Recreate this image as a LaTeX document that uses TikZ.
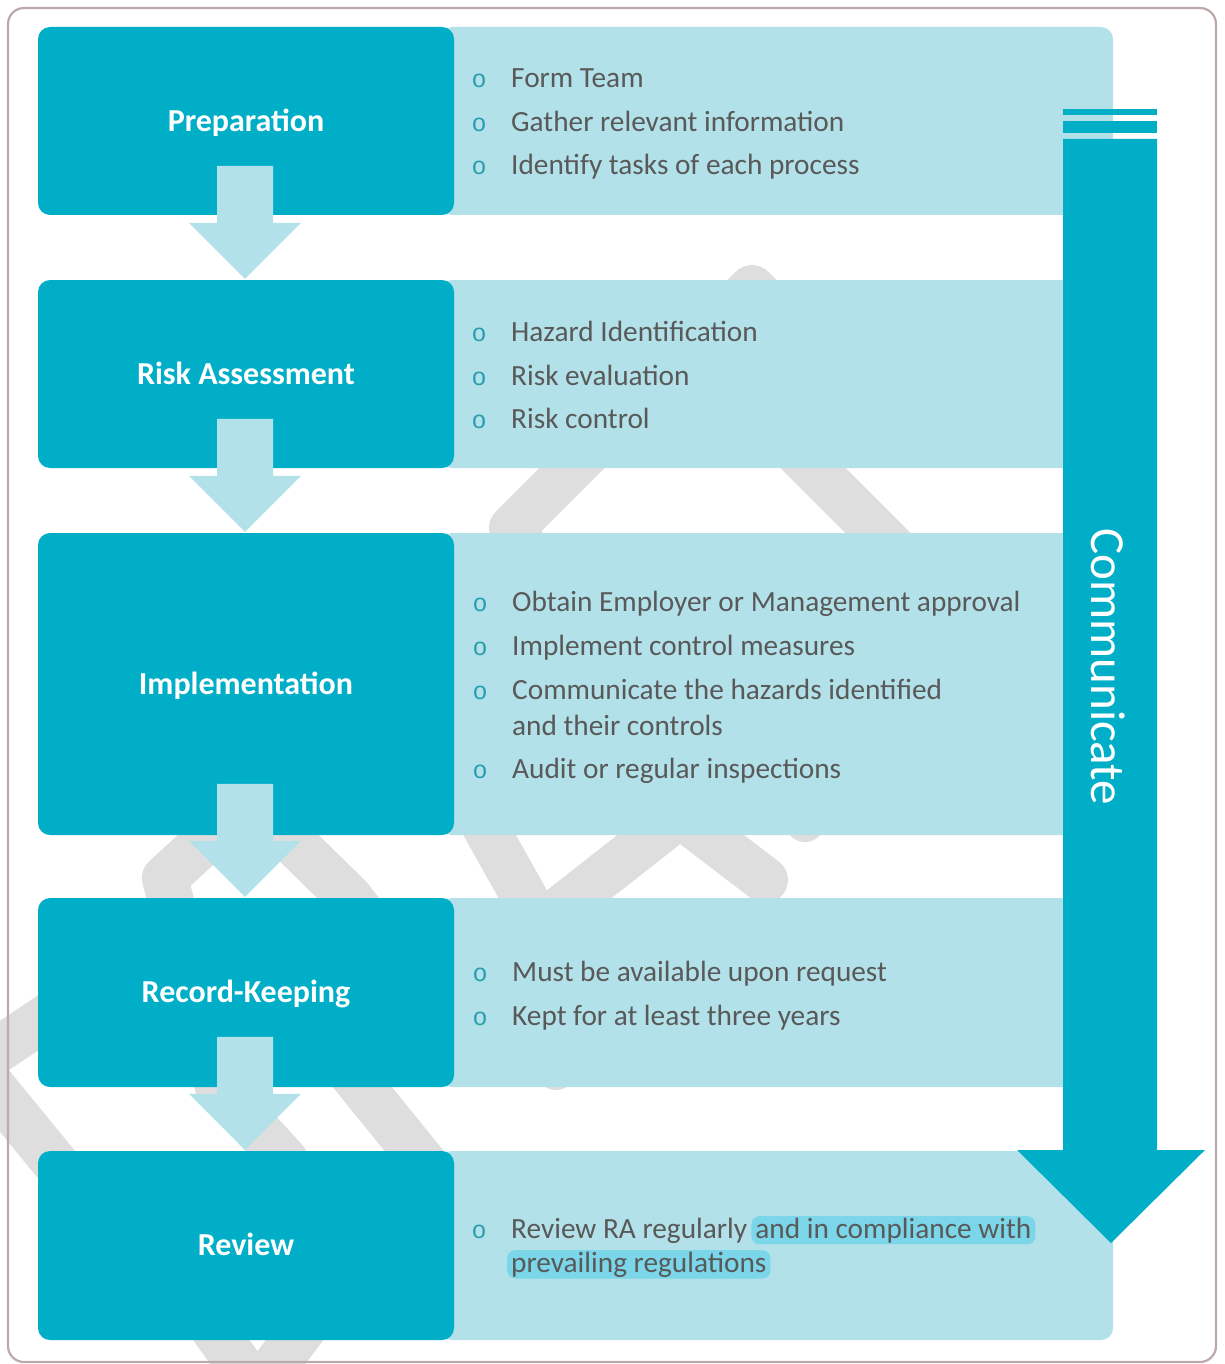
\documentclass[tikz,border=0pt]{standalone}
\usepackage{fontspec}
\setmainfont{Carlito}
\newfontfamily\bulletfont{Liberation Mono}
\usetikzlibrary{calc}

\definecolor{stepdark}{HTML}{00AFC7}
\definecolor{steplight}{HTML}{B2E1E9}
\definecolor{wmgrey}{HTML}{DEDEDE}
\definecolor{bodytext}{HTML}{595959}
\definecolor{bulletcol}{HTML}{2A9DAE}
\definecolor{hlcol}{HTML}{7AD6E8}
\definecolor{framecol}{HTML}{BCA9A9}

\begin{document}
\begin{tikzpicture}[x=1pt,y=-1pt,
  stagebox/.style={fill=stepdark, rounded corners=12pt, minimum width=416pt,
    inner sep=0pt, text=white, font=\fontsize{32}{36}\selectfont\bfseries,
    text height=20.6pt, text depth=0pt},
  detailbox/.style={fill=steplight, rounded corners=12pt, minimum width=673pt, inner sep=0pt},
  item/.style={anchor=base west, inner sep=0pt, text=bodytext, font=\fontsize{29.3}{34}\selectfont},
  bul/.style={anchor=base, inner sep=0pt, text=bulletcol, font=\bulletfont\fontsize{25}{30}\selectfont},
  hl/.style={fill=hlcol, rounded corners=8pt, inner xsep=4pt, inner ysep=1.5pt,
    anchor=base west, text=bodytext, font=\fontsize{29.3}{34}\selectfont},
  flowarrow/.style={fill=steplight},
  wm/.style={draw=wmgrey, line width=46pt, line cap=round, line join=round}
]
\path[use as bounding box] (0,0) rectangle (1224,1364);

% faint background emblem
\begin{scope}
  \clip (0,0) rectangle (1224,1364);
  \draw[wm] (560,600) -- (512,528) -- (752,288) -- (880,416);
  \draw[wm] (740,395) -- (930,585);
  \draw[wm] (420,990) -- (350,898) -- (250,800) -- (165,878) -- (218,1087) -- (285,1160) -- (300,1200);
  \draw[wm] (470,800) -- (540,925) -- (680,815) -- (765,880);
  \draw[wm, line width=40pt] (805,790) -- (805,822);
  \draw[wm] (300,1010) -- (470,1220);
  \draw[wm, line width=40pt] (540,1010) -- (556,1070);
  \draw[wm] (95,985) -- (-25,1065) -- (110,1230);
  \draw[wm] (150,1240) -- (257,1390) -- (370,1240);
\end{scope}

% outer frame
\draw[framecol, line width=2.2pt, rounded corners=16pt] (8,8) rectangle (1216,1362);

% detail panels
\node[detailbox, minimum height=188pt] (prepd) at (776.5,121) {};
\node[detailbox, minimum height=188pt] (riskd) at (776.5,374) {};
\node[detailbox, minimum height=302pt] (impld) at (776.5,684) {};
\node[detailbox, minimum height=189pt] (recd)  at (776.5,992.5) {};
\node[detailbox, minimum height=189pt] (revd)  at (776.5,1245.5) {};

% stage boxes
\node[stagebox, minimum height=188pt] (prep) at (246,121) {Preparation};
\node[stagebox, minimum height=188pt] (risk) at (246,374) {Risk Assessment};
\node[stagebox, minimum height=302pt] (impl) at (246,684) {Implementation};
\node[stagebox, minimum height=189pt] (rec)  at (246,992.5) {Record-Keeping};
\node[stagebox, minimum height=189pt] (rev)  at (246,1245.5) {Review};

% block arrows between stages
\foreach \nxt in {risk,impl,rec,rev}{
  \path[flowarrow] ($(\nxt.north)+(-1,-1)$) -- ++(-56,-56) -- ++(28,0) -- ++(0,-57)
    -- ++(56,0) -- ++(0,57) -- ++(28,0) -- cycle;
}

% communicate arrow
\fill[stepdark] (1063,109) rectangle (1157,115);
\fill[stepdark] (1063,121) rectangle (1157,133);
\fill[stepdark] (1063,139) -- (1157,139) -- (1157,1150) -- (1205,1150) -- (1111,1243)
  -- (1017,1150) -- (1063,1150) -- cycle;
\node[rotate=-90, text=white, inner sep=0pt, font=\fontsize{49}{55}\selectfont] (comm) at (1108,667) {Communicate};

% preparation details
\node[bul] (b11) at (479,88) {o};  \node[item] (t11) at (511,88) {Form Team};
\node[bul] (b12) at (479,132) {o}; \node[item] (t12) at (511,132) {Gather relevant information};
\node[bul] (b13) at (479,175) {o}; \node[item] (t13) at (511,175) {Identify tasks of each process};

% risk assessment details
\node[bul] (b21) at (479,341) {o}; \node[item] (t21) at (511,341) {Hazard Identification};
\node[bul] (b22) at (479,385) {o}; \node[item] (t22) at (511,385) {Risk evaluation};
\node[bul] (b23) at (479,428) {o}; \node[item] (t23) at (511,428) {Risk control};

% implementation details
\node[bul] (b31) at (480,611) {o}; \node[item] (t31) at (512,611) {Obtain Employer or Management approval};
\node[bul] (b32) at (480,655) {o}; \node[item] (t32) at (512,655) {Implement control measures};
\node[bul] (b33) at (480,699) {o}; \node[item] (t33) at (512,699) {Communicate the hazards identified};
\node[item] (t33b) at (512,735) {and their controls};
\node[bul] (b34) at (480,778) {o}; \node[item] (t34) at (512,778) {Audit or regular inspections};

% record-keeping details
\node[bul] (b41) at (480,981) {o};  \node[item] (t41) at (512,981) {Must be available upon request};
\node[bul] (b42) at (480,1025) {o}; \node[item] (t42) at (512,1025) {Kept for at least three years};

% review details
\node[bul] (b51) at (479,1238) {o}; \node[item] (t51) at (511,1238) {Review RA regularly};
\node[hl, xshift=4pt] (t51h) at (t51.base east) {and in compliance with};
\node[hl] (t52h) at (507,1272) {prevailing regulations};

\end{tikzpicture}
\end{document}
